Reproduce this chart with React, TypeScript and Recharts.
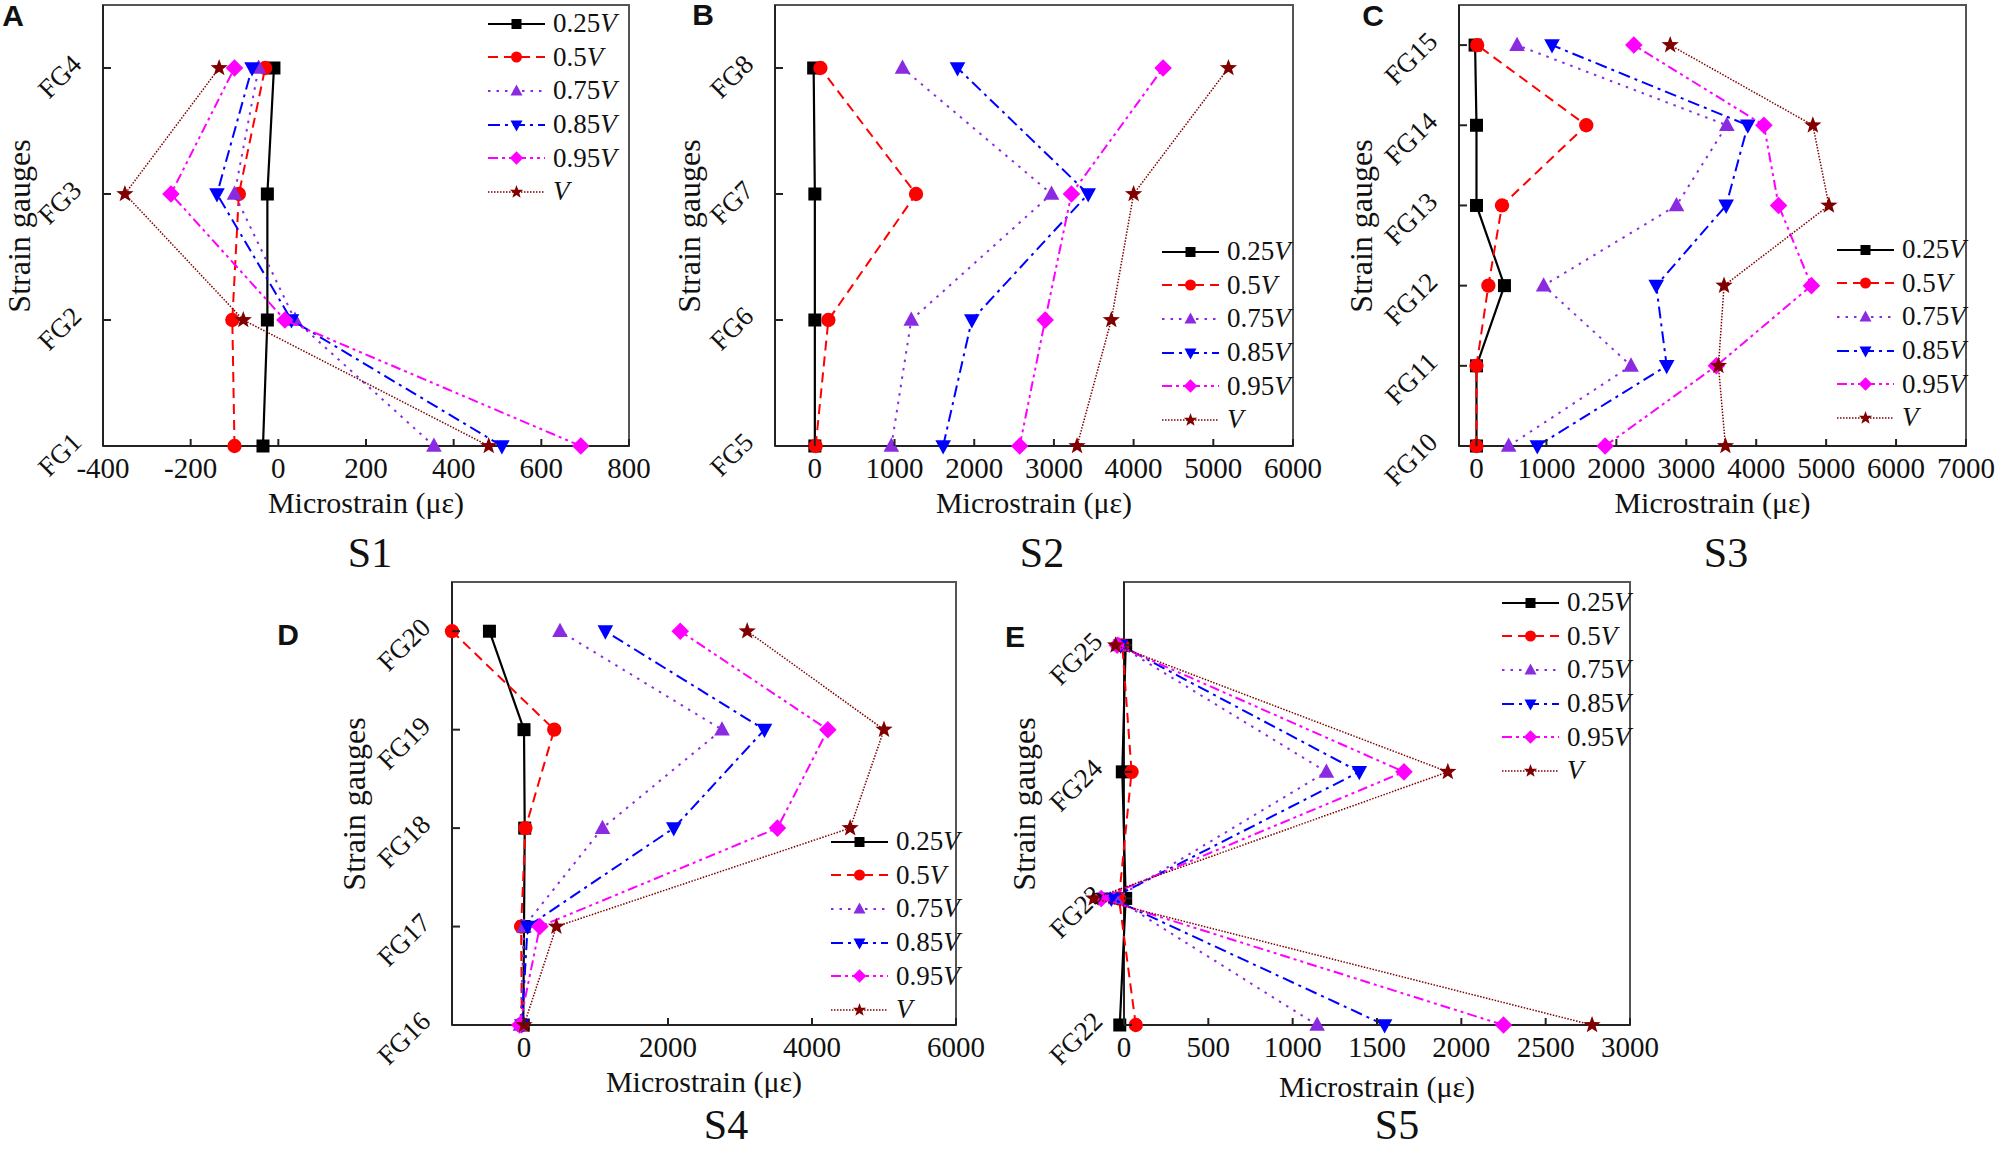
import React from "react";
import { ScatterChart, Scatter, XAxis, YAxis, ReferenceArea, Legend } from "recharts";

const FONT = '"Liberation Serif", "Times New Roman", serif';

// load levels, as fractions of the ultimate load V
const LOAD_LABELS = ["0.25", "0.5", "0.75", "0.85", "0.95", ""];

// S1: gauges FG1..FG4 (bottom to top)
const S1_GAUGES = [1, 2, 3, 4];
const S1_025V = [-35, -25, -25, -10];
const S1_050V = [-100, -105, -90, -30];
const S1_075V = [355, 38, -100, -45];
const S1_085V = [510, 30, -140, -60];
const S1_095V = [690, 15, -245, -100];
const S1_100V = [480, -80, -350, -135];
const S1_TICKS = [-400, -200, 0, 200, 400, 600, 800];

// S2: gauges FG5..FG8
const S2_GAUGES = [5, 6, 7, 8];
const S2_025V = [0, 0, 0, -15];
const S2_050V = [10, 170, 1270, 70];
const S2_075V = [960, 1210, 2970, 1100];
const S2_085V = [1610, 1970, 3430, 1790];
const S2_095V = [2570, 2890, 3220, 4370];
const S2_100V = [3290, 3720, 4000, 5190];
const S2_TICKS = [0, 1000, 2000, 3000, 4000, 5000, 6000];

// S3: gauges FG10..FG15
const S3_GAUGES = [10, 11, 12, 13, 14, 15];
const S3_025V = [0, 0, 400, 0, 0, -20];
const S3_050V = [0, 0, 170, 365, 1570, 10];
const S3_075V = [460, 2210, 960, 2860, 3580, 580];
const S3_085V = [870, 2720, 2570, 3570, 3880, 1080];
const S3_095V = [1840, 3430, 4790, 4320, 4110, 2250];
const S3_100V = [3560, 3460, 3540, 5040, 4810, 2770];
const S3_TICKS = [0, 1000, 2000, 3000, 4000, 5000, 6000, 7000];

// S4: gauges FG16..FG20
const S4_GAUGES = [16, 17, 18, 19, 20];
const S4_025V = [-10, 0, 10, 0, -480];
const S4_050V = [-30, -40, 20, 420, -1000];
const S4_075V = [-50, 0, 1090, 2750, 500];
const S4_085V = [-30, 50, 2080, 3340, 1130];
const S4_095V = [-60, 220, 3520, 4220, 2170];
const S4_100V = [0, 450, 4530, 5000, 3100];
const S4_TICKS = [0, 2000, 4000, 6000];

// S5: gauges FG22..FG25
const S5_GAUGES = [22, 23, 24, 25];
const S5_025V = [-25, 10, -10, 10];
const S5_050V = [70, -30, 45, -10];
const S5_075V = [1145, -50, 1200, -30];
const S5_085V = [1545, -75, 1395, -20];
const S5_095V = [2250, -135, 1660, -40];
const S5_100V = [2775, -180, 1920, -50];
const S5_TICKS = [0, 500, 1000, 1500, 2000, 2500, 3000];

type MarkerKind = "square" | "circle" | "triangle" | "down" | "diamond" | "star";

const SERIES: { color: string; dash?: string; width: number; marker: MarkerKind }[] = [
  { color: "#000000", width: 2.2, marker: "square" },
  { color: "#ff0000", dash: "10 6", width: 2, marker: "circle" },
  { color: "#8a2be2", dash: "2.5 6", width: 2, marker: "triangle" },
  { color: "#0000ff", dash: "12 5 3 5", width: 2, marker: "down" },
  { color: "#ff00ff", dash: "10 4 3 4 3 4", width: 2, marker: "diamond" },
  { color: "#800000", dash: "1.5 1.5", width: 1.5, marker: "star" },
];

function Marker({ kind, cx, cy, r, color }: { kind: MarkerKind; cx: number; cy: number; r: number; color: string }) {
  switch (kind) {
    case "square":
      return <rect x={cx - r} y={cy - r} width={2 * r} height={2 * r} fill={color} />;
    case "circle":
      return <circle cx={cx} cy={cy} r={r * 1.1} fill={color} />;
    case "triangle":
      return <path d={`M${cx},${cy - 1.3 * r}L${cx + 1.2 * r},${cy + 0.9 * r}L${cx - 1.2 * r},${cy + 0.9 * r}Z`} fill={color} />;
    case "down":
      return <path d={`M${cx},${cy + 1.3 * r}L${cx + 1.2 * r},${cy - 0.9 * r}L${cx - 1.2 * r},${cy - 0.9 * r}Z`} fill={color} />;
    case "diamond":
      return <path d={`M${cx},${cy - 1.35 * r}L${cx + 1.35 * r},${cy}L${cx},${cy + 1.35 * r}L${cx - 1.35 * r},${cy}Z`} fill={color} />;
    default: {
      const pts: string[] = [];
      for (let k = 0; k < 10; k++) {
        const rad = k % 2 === 0 ? 1.4 * r : 0.58 * r;
        const a = -Math.PI / 2 + (k * Math.PI) / 5;
        pts.push(`${cx + rad * Math.cos(a)},${cy + rad * Math.sin(a)}`);
      }
      return <polygon points={pts.join(" ")} fill={color} />;
    }
  }
}

const XTick = (p: any) => (
  <g>
    <line x1={p.x} y1={p.y} x2={p.x} y2={p.y - 7} stroke="#222" strokeWidth={2} />
    <text x={p.x} y={p.y + 32} textAnchor="middle" fontFamily={FONT} fontSize={29} fill="#111">
      {p.payload.value}
    </text>
  </g>
);

const YTick = (p: any) => {
  const tx = p.x - 20;
  const ty = p.y - 2;
  return (
    <g>
      <line x1={p.x} y1={p.y} x2={p.x + 8} y2={p.y} stroke="#222" strokeWidth={2} />
      <text x={tx} y={ty} transform={`rotate(-45 ${tx} ${ty})`} textAnchor="end" fontFamily={FONT} fontSize={27} fill="#111">
        {`FG${p.payload.value}`}
      </text>
    </g>
  );
};

const LegendBox = () => (
  <div style={{ fontFamily: FONT, fontSize: 27, color: "#111", lineHeight: 1 }}>
    {SERIES.map((s, i) => (
      <div key={i} style={{ display: "flex", alignItems: "center", height: 33.6 }}>
        <svg width={57} height={24} style={{ overflow: "visible" }}>
          <line x1={0} y1={12} x2={57} y2={12} stroke={s.color} strokeWidth={s.width} strokeDasharray={s.dash} />
          <Marker kind={s.marker} cx={28.5} cy={12} r={5} color={s.color} />
        </svg>
        <span style={{ marginLeft: 8, whiteSpace: "nowrap" }}>
          {LOAD_LABELS[i]}
          <i>V</i>
        </span>
      </div>
    ))}
  </div>
);

type PanelProps = {
  left: number;
  top: number;
  width: number;
  height: number;
  plot: [number, number, number, number];
  gauges: number[];
  series: number[][];
  xDomain: [number, number];
  xTicks: number[];
  yDomain: [number, number];
  letter: string;
  letterPos: [number, number];
  caption: string;
  captionPos: [number, number];
  yTitleX: number;
  xTitleGap: number;
  legendPos: [number, number];
};

const AXIS_W = 60;
const AXIS_H = 60;

const center: React.CSSProperties = {
  position: "absolute",
  transform: "translate(-50%, -50%)",
  whiteSpace: "nowrap",
  lineHeight: 1,
  color: "#111",
};

function Panel(props: PanelProps) {
  const [l, t, r, b] = props.plot;
  const margin = { left: l - AXIS_W, top: t, right: props.width - r, bottom: props.height - b - AXIS_H };
  return (
    <div className="strain-chart" style={{ position: "absolute", left: props.left, top: props.top, width: props.width, height: props.height }}>
      <ScatterChart width={props.width} height={props.height} margin={margin}>
        <XAxis
          type="number"
          dataKey="x"
          domain={props.xDomain}
          ticks={props.xTicks}
          interval={0}
          allowDataOverflow
          height={AXIS_H}
          tickSize={0}
          tickMargin={0}
          tickLine={false}
          tick={(p: any) => <XTick {...p} />}
          axisLine={{ stroke: "#222", strokeWidth: 2 }}
        />
        <YAxis
          type="number"
          dataKey="y"
          domain={props.yDomain}
          ticks={props.gauges}
          interval={0}
          allowDataOverflow
          width={AXIS_W}
          tickSize={0}
          tickMargin={0}
          tickLine={false}
          tick={(p: any) => <YTick {...p} />}
          axisLine={{ stroke: "#222", strokeWidth: 2 }}
        />
        <ReferenceArea
          x1={props.xDomain[0]}
          x2={props.xDomain[1]}
          y1={props.yDomain[0]}
          y2={props.yDomain[1]}
          fill="none"
          fillOpacity={0}
          stroke="#555"
          strokeWidth={2}
          ifOverflow="visible"
        />
        {props.series.map((vals, i) => {
          const s = SERIES[i];
          return (
            <Scatter
              key={i}
              data={props.gauges.map((g, j) => ({ x: vals[j], y: g }))}
              fill={s.color}
              line={{ stroke: s.color, strokeWidth: s.width, strokeDasharray: s.dash }}
              lineType="joint"
              shape={(p: any) => <Marker kind={s.marker} cx={p.cx} cy={p.cy} r={6.5} color={s.color} />}
              isAnimationActive={false}
            />
          );
        })}
        <Legend
          layout="vertical"
          align="center"
          verticalAlign="middle"
          content={() => <LegendBox />}
          wrapperStyle={{ left: props.legendPos[0], top: props.legendPos[1], width: "auto", height: "auto" }}
        />
      </ScatterChart>
      <div style={{ ...center, left: props.letterPos[0], top: props.letterPos[1], fontFamily: '"Liberation Sans", Arial, sans-serif', fontWeight: 700, fontSize: 30 }}>
        {props.letter}
      </div>
      <div style={{ ...center, left: props.yTitleX, top: (t + b) / 2, fontFamily: FONT, fontSize: 32, transform: "translate(-50%, -50%) rotate(-90deg)" }}>
        Strain gauges
      </div>
      <div style={{ ...center, left: (l + r) / 2, top: b + props.xTitleGap, fontFamily: FONT, fontSize: 30 }}>
        Microstrain (με)
      </div>
      <div style={{ ...center, left: props.captionPos[0], top: props.captionPos[1], fontFamily: FONT, fontSize: 42 }}>
        {props.caption}
      </div>
    </div>
  );
}

export default function App() {
  return (
    <div style={{ position: "absolute", left: 0, top: 0, width: 1997, height: 1149, background: "#fff", overflow: "hidden" }}>
      <style>{`.strain-chart [clip-path] { clip-path: none !important; }`}</style>
      <Panel
        left={0}
        top={0}
        width={660}
        height={580}
        plot={[103, 5, 629, 446]}
        gauges={S1_GAUGES}
        series={[S1_025V, S1_050V, S1_075V, S1_085V, S1_095V, S1_100V]}
        xDomain={[-400, 800]}
        xTicks={S1_TICKS}
        yDomain={[1, 4.5]}
        letter="A"
        letterPos={[13, 16]}
        caption="S1"
        captionPos={[370, 553]}
        yTitleX={19}
        xTitleGap={57}
        legendPos={[488, 7]}
      />
      <Panel
        left={660}
        top={0}
        width={680}
        height={580}
        plot={[115, 5, 633, 446]}
        gauges={S2_GAUGES}
        series={[S2_025V, S2_050V, S2_075V, S2_085V, S2_095V, S2_100V]}
        xDomain={[-500, 6000]}
        xTicks={S2_TICKS}
        yDomain={[5, 8.5]}
        letter="B"
        letterPos={[43, 15]}
        caption="S2"
        captionPos={[382, 553]}
        yTitleX={29}
        xTitleGap={57}
        legendPos={[502, 235]}
      />
      <Panel
        left={1330}
        top={0}
        width={667}
        height={580}
        plot={[129, 5, 636, 446]}
        gauges={S3_GAUGES}
        series={[S3_025V, S3_050V, S3_075V, S3_085V, S3_095V, S3_100V]}
        xDomain={[-250, 7000]}
        xTicks={S3_TICKS}
        yDomain={[10, 15.5]}
        letter="C"
        letterPos={[43, 16]}
        caption="S3"
        captionPos={[396, 553]}
        yTitleX={31}
        xTitleGap={57}
        legendPos={[507, 233]}
      />
      <Panel
        left={270}
        top={570}
        width={740}
        height={579}
        plot={[182, 12, 686, 455]}
        gauges={S4_GAUGES}
        series={[S4_025V, S4_050V, S4_075V, S4_085V, S4_095V, S4_100V]}
        xDomain={[-1000, 6000]}
        xTicks={S4_TICKS}
        yDomain={[16, 20.5]}
        letter="D"
        letterPos={[18, 65]}
        caption="S4"
        captionPos={[456, 555]}
        yTitleX={84}
        xTitleGap={57}
        legendPos={[561, 255]}
      />
      <Panel
        left={980}
        top={570}
        width={680}
        height={579}
        plot={[144, 12, 650, 455]}
        gauges={S5_GAUGES}
        series={[S5_025V, S5_050V, S5_075V, S5_085V, S5_095V, S5_100V]}
        xDomain={[0, 3000]}
        xTicks={S5_TICKS}
        yDomain={[22, 25.5]}
        letter="E"
        letterPos={[35, 67]}
        caption="S5"
        captionPos={[417, 555]}
        yTitleX={44}
        xTitleGap={62}
        legendPos={[522, 16]}
      />
    </div>
  );
}
